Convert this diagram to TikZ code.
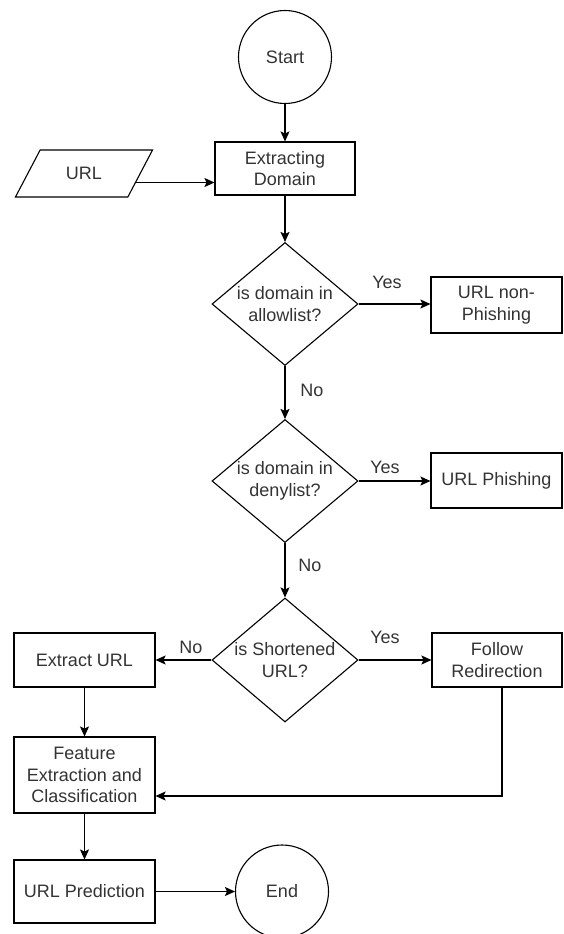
\documentclass[tikz,border=0pt]{standalone}
\usepackage{fontspec}
\setmainfont{Liberation Sans}
\usetikzlibrary{shapes.geometric, arrows.meta}

\begin{document}
\begin{tikzpicture}[x=1pt, y=-1pt, line width=1.1pt,
    every node/.style={font=\fontsize{18}{21.5}\selectfont, text=black!80, align=center},
    boxstyle/.style={draw=black, rectangle, inner sep=0pt, minimum width=141pt, minimum height=54pt},
    termstyle/.style={draw=black, circle, inner sep=0pt, minimum size=93pt},
    decstyle/.style={draw=black, diamond, inner sep=-12pt, minimum width=146pt, minimum height=123pt},
    iostyle/.style={draw=black, trapezium, trapezium left angle=58, trapezium right angle=122,
        trapezium stretches=true, minimum width=138pt, minimum height=47pt},
    arr/.style={-{Stealth[length=10pt,width=9pt,inset=2pt]}}]
    \useasboundingbox (0,0) rectangle (564,934);
    \node[termstyle] (start) at (285,57) {Start};
    \node[boxstyle, minimum width=140pt, minimum height=53pt] (dom) at (285,168.5) {Extracting\\Domain};
    \node[iostyle] (url) at (84,173.5) {URL};
    \node[decstyle] (allow) at (285,304) {is domain in\\allowlist?};
    \node[boxstyle, minimum width=131pt, minimum height=56pt] (nonphish) at (496.5,305) {URL non-\\Phishing};
    \node[decstyle] (deny) at (285,481) {is domain in\\denylist?};
    \node[boxstyle, minimum width=131pt, minimum height=55pt] (phish) at (496.5,480.5) {URL Phishing};
    \node[decstyle, minimum height=124pt] (short) at (285,660) {is Shortened\\URL?};
    \node[boxstyle] (extract) at (84.5,660) {Extract URL};
    \node[boxstyle, minimum width=130pt] (follow) at (497,660) {Follow\\Redirection};
    \node[boxstyle, minimum height=76pt] (feature) at (84.5,775) {Feature\\Extraction and\\Classification};
    \node[boxstyle, minimum height=63pt] (predict) at (84.5,891.5) {URL Prediction};
    \node[termstyle] (end) at (282,891.5) {End};
    % labels on the branches
    \node (yes1) at (387,282) {Yes};
    \node (no1) at (312,390) {No};
    \node (yes2) at (385,467) {Yes};
    \node (no2) at (310,565) {No};
    \node (yes3) at (385,637) {Yes};
    \node (no3) at (191,647) {No};
    \draw[arr] (start) -- (dom);
    \draw[arr] ([xshift=-5pt,yshift=-9pt]url.east) -- ([yshift=-9pt]url.east -| dom.west);
    \draw[arr] (dom) -- (allow);
    \draw[arr] (allow) -- (nonphish.west |- allow);
    \draw[arr] (allow) -- (deny);
    \draw[arr] (deny) -- (phish.west |- deny);
    \draw[arr] (deny) -- (short);
    \draw[arr] (short) -- (follow);
    \draw[arr] (short) -- (extract);
    \draw[arr] (extract) -- (feature);
    \draw[arr] ([xshift=5pt]follow.south) |- ([yshift=-21pt]feature.east);
    \draw[arr] (feature) -- (predict);
    \draw[arr] (predict) -- (end);
\end{tikzpicture}
\end{document}
